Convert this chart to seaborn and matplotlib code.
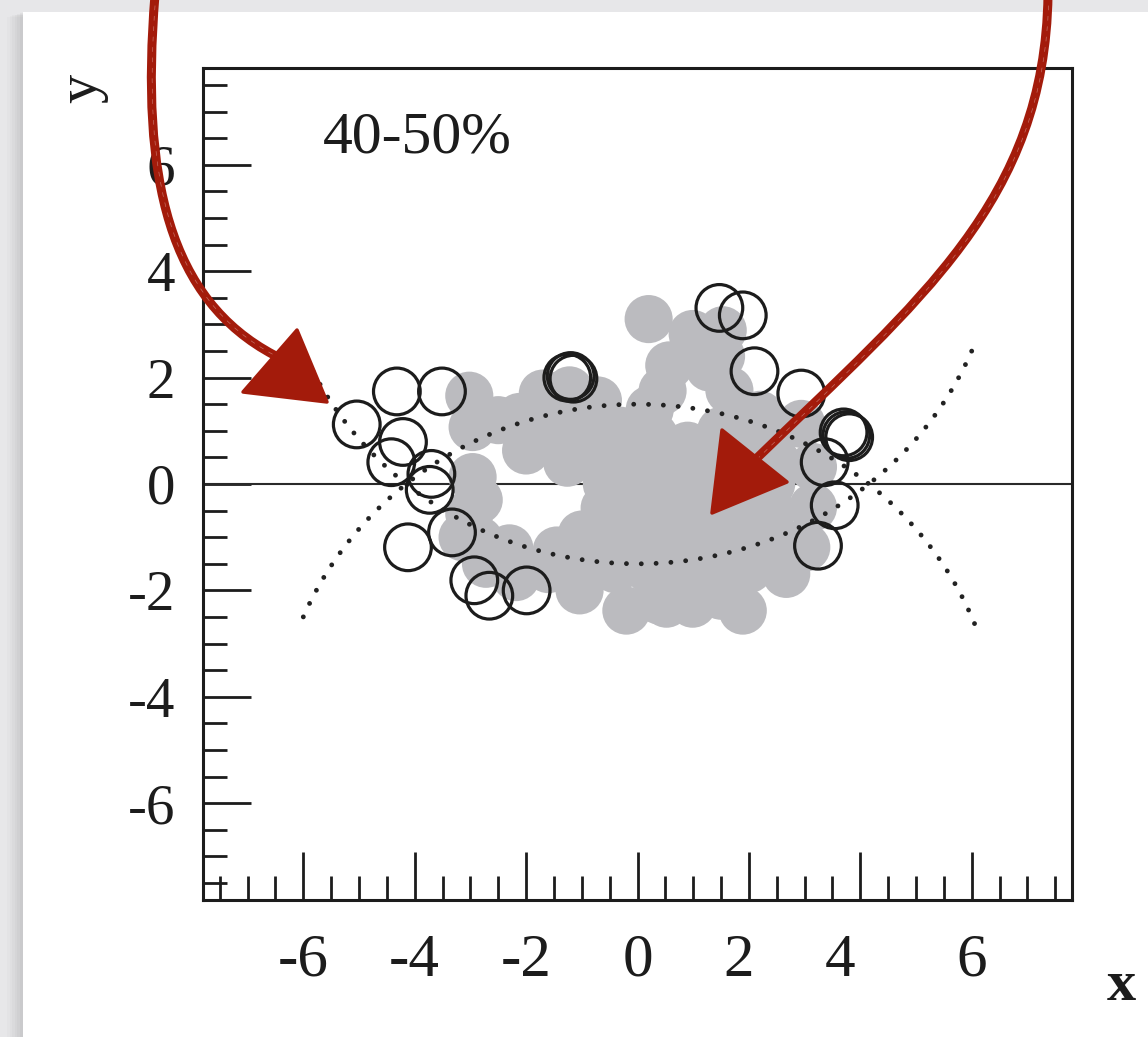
import numpy as np
import pandas as pd
import matplotlib
matplotlib.use("Agg")
import matplotlib.pyplot as plt
import matplotlib.transforms as mtransforms
from matplotlib.patches import Arc, Rectangle, Polygon, PathPatch
from matplotlib.path import Path
import seaborn as sns

# ---------------- data ----------------
centrality_label = "40-50%"
x_ticks = [-6, -4, -2, 0, 2, 4, 6]
x_tick_labels = ["-6", "-4", "-2", "0", "2", "4", "6"]
y_ticks = [-6, -4, -2, 0, 2, 4, 6]
y_tick_labels = ["-6", "-4", "-2", "0", "2", "4", "6"]

# grey filled markers (participants)
grey_x = [0.20, 0.99, 1.53, 0.57, 1.29, 1.65, 1.00, 1.50, 0.45,
          -3.02, -2.50, -2.12, -1.70, -1.22, -0.71, 0.22, 2.20, 2.94, 1.90,
          -2.96, -1.50, -0.90, -0.30, 0.30, 0.90, 1.50,
          -2.00, -1.26, -0.60, 0.00, 0.60, 1.20, 1.80, 2.37, 2.50, 3.15,
          -2.96, -2.85, -0.55, 0.00, 0.60, 1.20, 1.80, 2.40,
          -3.02, -0.59, 0.00, 0.60, 1.20, 1.80, 2.40, 3.15,
          -3.14, -2.84, -2.30, -1.45, -1.00, -0.30, 0.30, 0.90, 1.50, 2.10, 2.60, 3.03,
          -2.72, -2.18, -1.60, -1.00, -0.40, 0.20, 0.80, 1.40, 2.00, 2.67,
          -1.04, -0.20, 0.39, 0.52, 0.99, 1.50, 1.89]
grey_y = [3.10, 2.82, 2.89, 2.23, 2.19, 1.76, 2.50, 2.40, 1.75,
          1.66, 1.20, 1.26, 1.70, 1.76, 1.57, 1.40, 1.30, 1.13, 1.20,
          1.07, 1.00, 1.10, 1.00, 0.90, 0.72, 1.00,
          0.63, 0.40, 0.50, 0.40, 0.40, 0.40, 0.40, 0.82, 0.40, 0.32,
          0.13, -0.30, 0.00, -0.10, 0.00, 0.00, 0.00, 0.00,
          -0.56, -0.45, -0.50, -0.50, -0.50, -0.50, -0.50, -0.44,
          -1.00, -1.06, -1.21, -1.25, -0.95, -1.00, -1.00, -1.00, -1.00, -1.00, -1.10, -1.19,
          -1.50, -1.75, -1.60, -1.50, -1.60, -1.60, -1.60, -1.60, -1.60, -1.69,
          -2.00, -2.38, -2.19, -2.25, -2.25, -2.10, -2.38]

# open markers (spectators)
open_x = [-4.32, -3.51, -5.04, -4.21, -4.42, -3.70, -3.73, -3.33, -4.12, -2.93, -2.66, -1.99,
          -1.26, -1.20, -1.15, 1.47, 1.89, 2.10, 2.94, 3.70, 3.75, 3.80, 3.36, 3.54, 3.24]
open_y = [1.74, 1.74, 1.12, 0.79, 0.41, 0.19, -0.11, -0.91, -1.19, -1.81, -2.10, -2.00,
          2.00, 2.03, 1.98, 3.31, 3.17, 2.12, 1.70, 0.97, 0.92, 0.88, 0.41, -0.40, -1.16]

# nuclear outlines (dotted): radius and centre offset along y
nucleus_radius = 6.5
nucleus_offset = 5.0
arc_x_end = 6.05

grey_df = pd.DataFrame({"x": grey_x, "y": grey_y})
open_df = pd.DataFrame({"x": open_x, "y": open_y})

# ---------------- style ----------------
sns.set_theme(style="white")
plt.rcParams["font.family"] = ["Liberation Serif", "DejaVu Serif"]

W, H = 1148, 1037
fig = plt.figure(figsize=(W / 100, H / 100), dpi=100)
fig.patch.set_facecolor("#e7e7e9")
px = mtransforms.Affine2D().scale(1 / W, -1 / H).translate(0, 1) + fig.transFigure

# card shadow + white card
for i, a in enumerate([0.04, 0.05, 0.06, 0.07, 0.08, 0.10]):
    off = 16 - 2.5 * i
    fig.add_artist(Rectangle((23 - off, 12 + off * 0.3), 1300, 1300, transform=px,
                             facecolor="#9a9a9a", edgecolor="none", alpha=a, zorder=-20))
fig.add_artist(Rectangle((23, 12), 1300, 1300, transform=px,
                         facecolor="white", edgecolor="none", zorder=-10))

ax = fig.add_axes([203 / W, (H - 900) / H, 869 / W, 832 / H])
ax.set_facecolor("none")

ink = "#1c1c1c"

# y = 0 reference line (beneath the markers)
ax.axhline(0, color="#2a2a2a", lw=1.5, zorder=1)

# grey filled markers
sns.scatterplot(data=grey_df, x="x", y="y", ax=ax, color="#bbbbbf",
                s=1200, linewidth=0, edgecolor="none", zorder=2, legend=False)

# dotted nuclear outlines
theta = np.degrees(np.arccos(arc_x_end / nucleus_radius))
for cy, t1, t2 in [(-nucleus_offset, theta, 180 - theta),
                   (nucleus_offset, 180 + theta, 360 - theta)]:
    arc = Arc((0, cy), 2 * nucleus_radius, 2 * nucleus_radius, theta1=t1, theta2=t2,
              color="#222222", lw=3.5, linestyle=(0, (0.001, 3.05)), zorder=3)
    arc.set_capstyle("round")
    ax.add_patch(arc)

# open markers
sns.scatterplot(data=open_df, x="x", y="y", ax=ax, color="white",
                s=1130, linewidth=2.3, edgecolor=ink, zorder=4, legend=False)
ax.collections[-1].set_facecolor("none")

ax.set_xlim(-7.8, 7.8)
ax.set_ylim(-7.82, 7.82)
ax.set_xlabel("")
ax.set_ylabel("")

ax.set_xticks(x_ticks)
ax.set_xticklabels(x_tick_labels)
ax.set_yticks(y_ticks)
ax.set_yticklabels(y_tick_labels)
ax.set_xticks(np.arange(-7.5, 7.6, 0.5), minor=True)
ax.set_yticks(np.arange(-7.5, 7.6, 0.5), minor=True)
ax.tick_params(axis="both", which="major", direction="in", length=34.5, width=2.0,
               color=ink, labelcolor=ink)
ax.tick_params(axis="both", which="minor", direction="in", length=17.5, width=2.0, color=ink)
ax.tick_params(axis="x", which="both", bottom=True, top=False, pad=24, labelsize=44)
ax.tick_params(axis="y", which="both", left=True, right=False, pad=20, labelsize=41)

for s in ax.spines.values():
    s.set_visible(True)
    s.set_color(ink)
    s.set_linewidth(2.2)

# label offsets as in the original figure
label_shift_px = {"2": -10, "4": -20}
for lab in ax.get_xticklabels():
    dx = label_shift_px.get(lab.get_text(), 0)
    if dx:
        lab.set_transform(lab.get_transform() +
                          mtransforms.ScaledTranslation(dx / 100, 0, fig.dpi_scale_trans))

# texts
fig.text(323 / W, 1 - 153 / H, centrality_label, fontsize=43, color=ink,
         ha="left", va="baseline")
fig.text(96 / W, 1 - 88 / H, "y", fontsize=42, color=ink, rotation=90,
         rotation_mode="anchor", ha="center", va="baseline")
fig.text(1121 / W, 1 - 1000 / H, "x", fontsize=42, color=ink, fontweight="bold",
         ha="center", va="baseline")

# hand-drawn red arrows
red = "#a31b0b"


def sketch_arrow(p0, p1, p2, p3, head):
    codes = [Path.MOVETO, Path.CURVE4, Path.CURVE4, Path.CURVE4]
    for (ox, oy), lw, al, col, ls in [((0, 0), 6.5, 1.0, red, "-"),
                                      ((2.0, 1.0), 1.8, 0.8, red, "-"),
                                      ((-2.0, -1.0), 1.8, 0.8, red, "-"),
                                      ((0.8, 0.4), 0.5, 0.35, "white", (0, (6, 9)))]:
        verts = [(p[0] + ox, p[1] + oy) for p in (p0, p1, p2, p3)]
        fig.add_artist(PathPatch(Path(verts, codes), transform=px, facecolor="none",
                                 edgecolor=col, lw=lw, alpha=al, capstyle="round",
                                 linestyle=ls, zorder=20))
    fig.add_artist(Polygon(head, closed=True, transform=px, facecolor=red,
                           edgecolor=red, lw=2.5, joinstyle="round", zorder=21))


sketch_arrow((155, -5), (140, 180), (170, 300), (274, 355),
             [(297, 330), (243, 392), (327, 402)])
sketch_arrow((1048, -5), (1045, 200), (920, 300), (757, 458),
             [(722, 430), (712, 513), (787, 482)])

fig.savefig("out.png", dpi=100, facecolor=fig.get_facecolor())
